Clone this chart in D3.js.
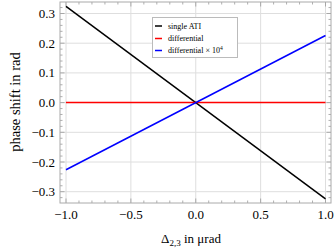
<!DOCTYPE html>
<html><head><meta charset="utf-8">
<script src="https://cdn.jsdelivr.net/npm/d3@7"></script>
<style>body{margin:0;background:#fff}svg{display:block}text{font-family:"Liberation Serif","Times New Roman",serif}</style>
</head><body>
<script>
const xDomain = [-1, 1];
const xs = [-1, 1];
const singleATI = [0.324, -0.324];
const differential = [0, 0];
const differentialScaled = [-0.226, 0.226];
const xTicks = [-1.0, -0.5, 0.0, 0.5, 1.0];
const yTicks = [-0.3, -0.2, -0.1, 0.0, 0.1, 0.2, 0.3];
const seriesNames = ["single ATI", "differential", "differential \u00d7 10"];
const seriesColors = ["#000000", "#ff0000", "#0000ff"];

const W = 335, H = 252;
const svg = d3.select("body").append("svg").attr("width", W).attr("height", H);
const fx = [60, 331], fy = [2, 203];
const x = d3.scaleLinear().domain([-1, 1]).range([66, 325.5]);
const y = d3.scaleLinear().domain([-0.3, 0.3]).range([191.7, 13.5]);

// grid
svg.append("g").selectAll("line").data(xTicks).join("line")
  .attr("x1", d => x(d)).attr("x2", d => x(d)).attr("y1", fy[0]).attr("y2", fy[1])
  .attr("stroke", "#dedede").attr("stroke-width", 1);
svg.append("g").selectAll("line").data(yTicks).join("line")
  .attr("x1", fx[0]).attr("x2", fx[1]).attr("y1", d => y(d)).attr("y2", d => y(d))
  .attr("stroke", "#dedede").attr("stroke-width", 1);

// ticks (minor & major) on all sides
const xMinor = d3.range(-10, 11).map(i => i / 10);
const yMinor = d3.range(-16, 17).map(i => i / 50).filter(v => v >= y.invert(fy[1]) && v <= y.invert(fy[0]));
const tk = svg.append("g").attr("stroke", "#999").attr("stroke-width", 0.8);
xMinor.forEach(v => {
  const maj = Math.abs(v * 2 - Math.round(v * 2)) < 1e-6;
  const L = maj ? 4.5 : 2.5;
  tk.append("line").attr("x1", x(v)).attr("x2", x(v)).attr("y1", fy[1]).attr("y2", fy[1] - L);
  tk.append("line").attr("x1", x(v)).attr("x2", x(v)).attr("y1", fy[0]).attr("y2", fy[0] + L);
});
yMinor.forEach(v => {
  const maj = Math.abs(v * 10 - Math.round(v * 10)) < 1e-6;
  const L = maj ? 4.5 : 2.5;
  tk.append("line").attr("x1", fx[0]).attr("x2", fx[0] + L).attr("y1", y(v)).attr("y2", y(v));
  tk.append("line").attr("x1", fx[1]).attr("x2", fx[1] - L).attr("y1", y(v)).attr("y2", y(v));
});

// frame
svg.append("rect").attr("x", fx[0]).attr("y", fy[0]).attr("width", fx[1] - fx[0]).attr("height", fy[1] - fy[0])
  .attr("fill", "none").attr("stroke", "#aaa").attr("stroke-width", 1);

// tick labels
const fmt = v => (v < 0 ? "\u2212" : "") + Math.abs(v).toFixed(1);
svg.append("g").selectAll("text").data(xTicks).join("text")
  .attr("x", d => x(d)).attr("y", 219).attr("text-anchor", "middle")
  .attr("font-size", 13).text(fmt);
svg.append("g").selectAll("text").data(yTicks).join("text")
  .attr("x", 55).attr("y", d => y(d) + 4.5).attr("text-anchor", "end")
  .attr("font-size", 13).text(fmt);

// axis labels
const xl = svg.append("text").attr("x", 191).attr("y", 243).attr("text-anchor", "middle").attr("font-size", 13);
xl.append("tspan").text("\u0394");
xl.append("tspan").attr("font-size", 9).attr("dy", 3).text("2,3");
xl.append("tspan").attr("dy", -3).text(" in \u03bcrad");
svg.append("text").attr("transform", "translate(20,102) rotate(-90)").attr("text-anchor", "middle")
  .attr("font-size", 14.5).text("phase shift in rad");

// lines
const line = d3.line().x(d => x(d[0])).y(d => y(d[1]));
[singleATI, differential, differentialScaled].forEach((s, i) => {
  svg.append("path").datum(xs.map((v, j) => [v, s[j]])).attr("d", line)
    .attr("fill", "none").attr("stroke", seriesColors[i]).attr("stroke-width", 1.5);
});

// legend
const lg = svg.append("g");
lg.append("rect").attr("x", 152.5).attr("y", 17.5).attr("width", 85).attr("height", 40)
  .attr("fill", "#fff").attr("stroke", "#bbb").attr("stroke-width", 1);
const rows = [26, 38.5, 50.5];
seriesNames.forEach((n, i) => {
  lg.append("line").attr("x1", 155).attr("x2", 162).attr("y1", rows[i]).attr("y2", rows[i])
    .attr("stroke", seriesColors[i]).attr("stroke-width", 1.5);
  const t = lg.append("text").attr("x", 168).attr("y", rows[i] + 2.8).attr("font-size", 8).text(n);
  if (i === 2) t.append("tspan").attr("font-size", 5.5).attr("dy", -3.5).text("4");
});
</script>
</body></html>
